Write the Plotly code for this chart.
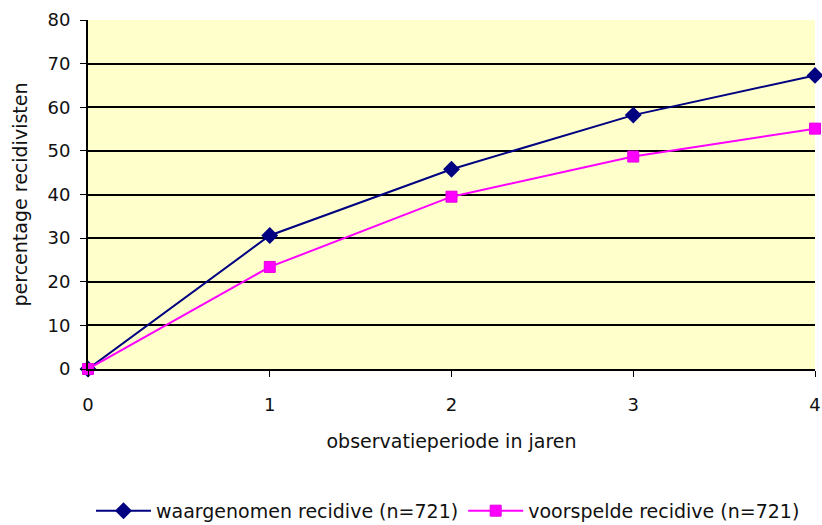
import plotly.graph_objects as go

jaren = [0, 1, 2, 3, 4]
waargenomen = [0, 30.6, 45.8, 58.2, 67.3]
voorspeld = [0, 23.4, 39.5, 48.7, 55.1]

font = "DejaVu Sans, Verdana, sans-serif"

fig = go.Figure()
fig.add_trace(go.Scatter(
    x=jaren, y=waargenomen, mode="lines+markers",
    name="waargenomen recidive (n=721)",
    line=dict(color="#000080", width=2),
    marker=dict(symbol="diamond", size=13, color="#000080"),
    cliponaxis=False,
))
fig.add_trace(go.Scatter(
    x=jaren, y=voorspeld, mode="lines+markers",
    name="voorspelde recidive (n=721)",
    line=dict(color="#FF00FF", width=2),
    marker=dict(symbol="square", size=11, color="#FF00FF", line=dict(color="#E000E0", width=1)),
    cliponaxis=False,
))

fig.update_layout(
    width=822, height=525,
    margin=dict(l=88, r=7, t=20, b=156),
    plot_bgcolor="#FFFFCC",
    paper_bgcolor="white",
    font=dict(family=font, size=18, color="#111111"),
    showlegend=True,
    legend=dict(orientation="h", x=0.545, xanchor="center", xref="container",
                y=0.027, yanchor="middle", yref="container", itemwidth=55,
                font=dict(family=font, size=19), tracegroupgap=0),
)
fig.update_xaxes(
    range=[0, 4], tickvals=jaren, showgrid=False, zeroline=False,
    showline=True, linecolor="black", linewidth=2,
    ticks="outside", ticklen=6, tickcolor="black",
    tickfont=dict(family=font, size=18), ticklabelstandoff=12, automargin=False,
    title=dict(text="observatieperiode in jaren", font=dict(family=font, size=19), standoff=21),
)
fig.update_yaxes(
    range=[0, 80], dtick=10, showgrid=True, gridcolor="black", gridwidth=1.5,
    zeroline=False, showline=True, linecolor="black", linewidth=2,
    ticks="outside", ticklen=6, tickcolor="black",
    tickfont=dict(family=font, size=18), ticklabelstandoff=6, automargin=False,
    title=dict(text="percentage recidivisten", font=dict(family=font, size=19), standoff=15),
)

fig.write_html("out.html", config={"displayModeBar": False},
               post_script="document.body.style.margin='0';")
